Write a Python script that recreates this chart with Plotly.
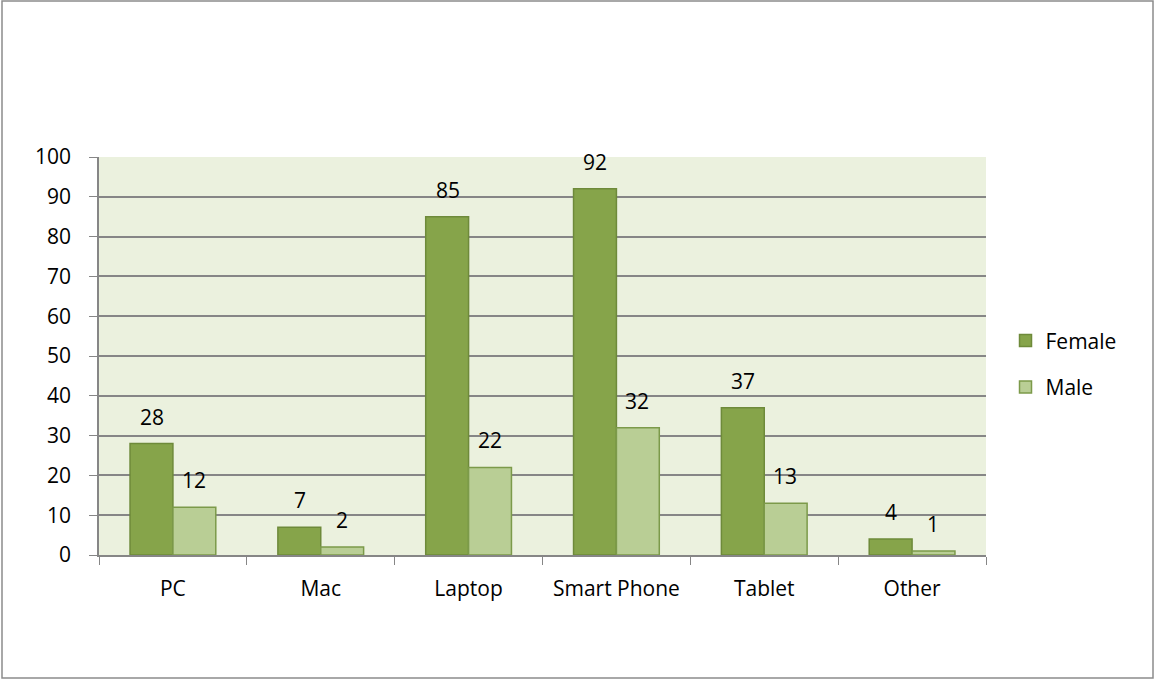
import plotly.graph_objects as go

categories = ["PC", "Mac", "Laptop", "Smart Phone", "Tablet", "Other"]
female = [28, 7, 85, 92, 37, 4]
male = [12, 2, 22, 32, 13, 1]
y_ticks = [0, 10, 20, 30, 40, 50, 60, 70, 80, 90, 100]

W, H = 1155, 680
L, R, T, B = 99, 169, 157, 125
pw, ph = W - L - R, H - T - B

font = dict(family="Open Sans, sans-serif", size=21, color="#000000")

fig = go.Figure()
fig.add_trace(go.Bar(
    x=categories, y=female, name="Female", legendgroup="f",
    marker=dict(color="#86A44A", line=dict(color="#6E8A3A", width=1.5)),
))
fig.add_trace(go.Bar(
    x=categories, y=male, name="Male", legendgroup="m",
    marker=dict(color="#B9CE95", line=dict(color="#7C9A4A", width=1.5)),
))

# value labels above each bar
for cat, fv, mv in zip(categories, female, male):
    fig.add_annotation(x=cat, y=fv, text=str(fv), showarrow=False,
                       xshift=-21, yshift=27, yanchor="middle", font=font)
    fig.add_annotation(x=cat, y=mv, text=str(mv), showarrow=False,
                       xshift=21, yshift=27, yanchor="middle", font=font)

# outer chart frame
fig.add_shape(type="rect", xref="paper", yref="paper",
              x0=(2 - L) / pw, x1=(W - 2 - L) / pw,
              y0=(T + ph - (H - 2)) / ph, y1=(T + ph - 1) / ph,
              line=dict(color="#8C8C8C", width=1.5), layer="below")

fig.update_layout(
    width=W, height=H,
    margin=dict(l=L, r=R, t=T, b=B),
    paper_bgcolor="#FFFFFF",
    plot_bgcolor="#EBF1DE",
    barmode="group", bargap=0.42, bargroupgap=0,
    font=font,
    showlegend=True,
    legend=dict(x=1.022, y=0.48, xanchor="left", yanchor="middle",
                font=dict(size=21), tracegroupgap=16,
                itemwidth=30, bgcolor="rgba(0,0,0,0)"),
    xaxis=dict(
        showgrid=False, showline=True, linecolor="#868686", linewidth=1.5,
        ticks="outside", tickson="boundaries", ticklen=8, tickcolor="#868686",
        tickfont=font, ticklabelstandoff=14,
    ),
    yaxis=dict(
        range=[0, 100], tickvals=y_ticks, showgrid=True,
        gridcolor="#868686", gridwidth=1.5,
        showline=True, linecolor="#868686", linewidth=1.5,
        ticks="outside", ticklen=8, tickcolor="#868686",
        tickfont=font, zeroline=False, ticklabelstandoff=14,
    ),
)

fig.write_html("out.html")
